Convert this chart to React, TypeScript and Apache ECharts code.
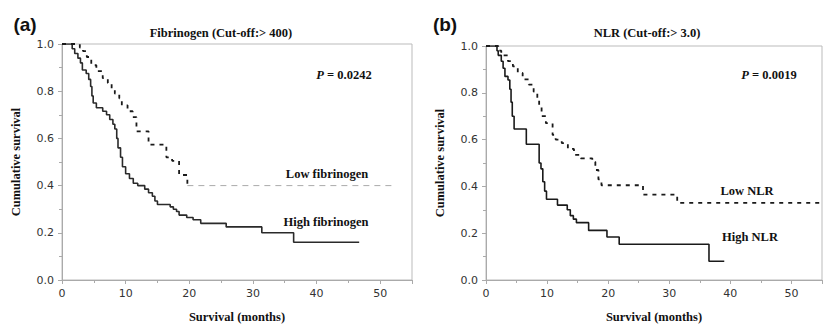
import React, { useEffect, useRef } from "react";
import * as echarts from "echarts";

const xTicks = [0, 10, 20, 30, 40, 50];
const yTicks = [0, 0.2, 0.4, 0.6, 0.8, 1.0];

const fibHigh: number[][] = [
  [0, 1], [1.3, 1], [1.6, 0.98], [2, 0.96], [2.5, 0.94], [2.9, 0.92], [3.2, 0.89], [3.8, 0.875],
  [4.2, 0.85], [4.5, 0.82], [4.7, 0.78], [4.9, 0.75], [5.4, 0.73], [6.4, 0.715], [7, 0.7],
  [7.5, 0.68], [8, 0.66], [8.3, 0.64], [8.6, 0.6], [8.8, 0.56], [9.2, 0.52], [9.5, 0.48],
  [10, 0.45], [10.6, 0.43], [11.2, 0.41], [11.9, 0.4], [13, 0.385], [13.6, 0.37], [14.2, 0.355],
  [14.6, 0.335], [15, 0.32], [16.6, 0.32], [17, 0.31], [17.5, 0.3], [18, 0.29], [18.4, 0.275],
  [19.6, 0.265], [20.6, 0.255], [21.8, 0.24], [25.8, 0.225], [31.4, 0.2], [36.4, 0.16], [46.7, 0.16],
];
const fibLow: number[][] = [
  [0, 1], [2.3, 1], [2.8, 0.985], [3.3, 0.97], [3.9, 0.945], [4.6, 0.91], [5.4, 0.885],
  [6.4, 0.855], [7.2, 0.835], [7.8, 0.81], [8.3, 0.79], [9, 0.77], [9.4, 0.74], [10.3, 0.715],
  [11.1, 0.69], [11.7, 0.63], [13.6, 0.574], [16.4, 0.52], [17.3, 0.505], [18.4, 0.445],
  [19.7, 0.4],
];
const fibLowTail: number[][] = [[19.7, 0.4], [52.5, 0.4]];

const nlrHigh: number[][] = [
  [0, 1], [1.5, 1], [1.8, 0.98], [2.0, 0.96], [2.5, 0.935], [2.8, 0.905], [3.1, 0.87],
  [3.6, 0.855], [3.9, 0.815], [4.1, 0.76], [4.3, 0.7], [4.6, 0.645], [6.6, 0.58], [8.7, 0.5],
  [9.0, 0.475], [9.3, 0.42], [9.6, 0.38], [9.9, 0.345], [11.7, 0.32], [13.3, 0.3], [13.8, 0.275],
  [14.3, 0.26], [14.8, 0.245], [16.8, 0.212], [19.8, 0.184], [21.8, 0.153], [36.5, 0.08], [39, 0.08],
];
const nlrLow: number[][] = [
  [0, 1], [1.6, 1], [2.0, 0.98], [2.5, 0.96], [3.6, 0.935], [4.4, 0.913], [5.2, 0.885],
  [6.0, 0.857], [7.0, 0.835], [7.8, 0.805], [8.4, 0.77], [8.7, 0.745], [9.1, 0.7], [9.8, 0.67],
  [10.9, 0.62], [11.4, 0.6], [12.4, 0.585], [13.4, 0.56], [14.4, 0.535], [15.5, 0.52],
  [17.4, 0.505], [17.9, 0.47], [18.4, 0.43], [18.9, 0.405], [25.7, 0.365], [31.3, 0.33], [55, 0.33],
];

const serif = "'Liberation Serif', 'Times New Roman', serif";
const sans = "'DejaVu Sans', Verdana, sans-serif";

function xAxis(gridIndex: number) {
  return {
    type: "value", gridIndex, min: 0, max: 55, interval: 10,
    name: "Survival (months)", nameLocation: "middle", nameGap: 30,
    nameTextStyle: { fontFamily: serif, fontWeight: "bold", fontSize: 12.5, color: "#111" },
    axisLine: { show: true, lineStyle: { color: "#aaa", width: 1 } },
    axisTick: { show: true, length: 4, lineStyle: { color: "#aaa" } },
    minorTick: { show: true, splitNumber: 2, length: 3, lineStyle: { color: "#aaa" } },
    axisLabel: {
      fontFamily: sans, fontSize: 11, color: "#333", margin: 8,
      formatter: (v: number) => (xTicks.includes(v) ? String(v) : ""),
    },
    splitLine: { show: false },
  };
}
function yAxis(gridIndex: number) {
  return {
    type: "value", gridIndex, min: 0, max: 1, interval: 0.2,
    name: "Cumulative survival", nameLocation: "middle", nameGap: 40, nameRotate: 90,
    nameTextStyle: { fontFamily: serif, fontWeight: "bold", fontSize: 12.5, color: "#111" },
    axisLine: { show: true, lineStyle: { color: "#aaa", width: 1 } },
    axisTick: { show: true, length: 4, lineStyle: { color: "#aaa" } },
    minorTick: { show: true, splitNumber: 2, length: 3, lineStyle: { color: "#aaa" } },
    axisLabel: {
      fontFamily: sans, fontSize: 11, color: "#333", margin: 8,
      formatter: (v: number) => (yTicks.some((t) => Math.abs(t - v) < 1e-6) ? v.toFixed(1) : ""),
    },
    splitLine: { show: false },
  };
}

function line(data: number[][], idx: number, style: any) {
  return {
    type: "line", xAxisIndex: idx, yAxisIndex: idx, data, step: "end",
    showSymbol: false, symbol: "none", lineStyle: style, silent: true,
  };
}

function txt(x: number, y: number, text: string, extra: any = {}) {
  return {
    type: "text", x, y,
    style: {
      text, fontFamily: serif, fontWeight: "bold", fontSize: 12.5, fill: "#111",
      align: "center", verticalAlign: "middle", ...extra,
    },
  };
}
function pText(x: number, y: number, val: string) {
  return {
    type: "text", x, y,
    style: {
      text: "{i|P} = " + val, fontFamily: serif, fontWeight: "bold", fontSize: 12.5, fill: "#111",
      align: "center", verticalAlign: "middle",
      rich: { i: { fontFamily: serif, fontWeight: "bold", fontStyle: "italic", fontSize: 12.5, fill: "#111" } },
    },
  };
}

export default function App() {
  const ref = useRef<HTMLDivElement>(null);
  useEffect(() => {
    const chart = echarts.init(ref.current!, undefined, { renderer: "svg" });
    chart.setOption({
      animation: false,
      backgroundColor: "#fff",
      grid: [
        { left: 62, top: 44, width: 350, height: 237, show: true, borderColor: "#bbb", borderWidth: 1 },
        { left: 486, top: 46, width: 350, height: 237, show: true, borderColor: "#bbb", borderWidth: 1 },
      ],
      xAxis: [xAxis(0), xAxis(1)],
      yAxis: [yAxis(0), yAxis(1)],
      series: [
        line(fibHigh, 0, { color: "#2a2a2a", width: 1.6 }),
        line(fibLow, 0, { color: "#1a1a1a", width: 1.8, type: [4, 5] }),
        line(fibLowTail, 0, { color: "#aaa", width: 1, type: [6, 5] }),
        line(nlrHigh, 1, { color: "#1a1a1a", width: 1.6 }),
        line(nlrLow, 1, { color: "#1a1a1a", width: 1.8, type: [4, 5] }),
      ],
      graphic: [
        txt(25, 24, "(a)", { fontFamily: "'Liberation Sans', Arial, sans-serif", fontSize: 19 }),
        txt(221, 33, "Fibrinogen (Cut-off:> 400)"),
        pText(344, 75, "0.0242"),
        txt(327, 174, "Low fibrinogen"),
        txt(326, 222, "High fibrinogen"),
        txt(445, 24, "(b)", { fontFamily: "'Liberation Sans', Arial, sans-serif", fontSize: 19 }),
        txt(647, 33, "NLR (Cut-off:> 3.0)"),
        pText(769, 75, "0.0019"),
        txt(747, 191, "Low NLR"),
        txt(750, 237, "High NLR"),
      ],
    });
    return () => chart.dispose();
  }, []);
  return (
    <div
      ref={ref}
      style={{ position: "fixed", left: 0, top: 0, width: 825, height: 328, background: "#fff" }}
    />
  );
}
